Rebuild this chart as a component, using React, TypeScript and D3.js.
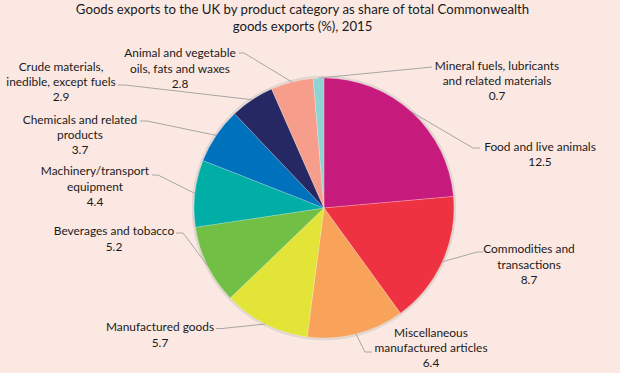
import React, { useEffect } from "react";
import * as d3 from "d3";

const categories = [
  "Food and live animals",
  "Commodities and transactions",
  "Miscellaneous manufactured articles",
  "Manufactured goods",
  "Beverages and tobacco",
  "Machinery/transport equipment",
  "Chemicals and related products",
  "Crude materials, inedible, except fuels",
  "Animal and vegetable oils, fats and waxes",
  "Mineral fuels, lubricants and related materials",
];
const labelLines = [
  ["Food and live animals"],
  ["Commodities and", "transactions"],
  ["Miscellaneous", "manufactured articles"],
  ["Manufactured goods"],
  ["Beverages and tobacco"],
  ["Machinery/transport", "equipment"],
  ["Chemicals and related", "products"],
  ["Crude materials,", "inedible, except fuels"],
  ["Animal and vegetable", "oils, fats and waxes"],
  ["Mineral fuels, lubricants", "and related materials"],
];
const values = [12.5, 8.7, 6.4, 5.7, 5.2, 4.4, 3.7, 2.9, 2.8, 0.7];
const valueLabels = ["12.5", "8.7", "6.4", "5.7", "5.2", "4.4", "3.7", "2.9", "2.8", "0.7"];
const colors = [
  "#c71a7d", "#ee3241", "#f9a35a", "#e2e437", "#72bf45",
  "#00aea6", "#0071bc", "#262863", "#f69e8b", "#8fd3d3",
];
const titleLines = [
  "Goods exports to the UK by product category as share of total Commonwealth",
  "goods exports (%), 2015",
];

// layout: label centre x, first line centre y, leader knee and end points
const labelLayout = [
  { cx: 540, y: 146, knee: [473, 148], end: [480, 148] },
  { cx: 529, y: 248.7, knee: [477, 252], end: [483, 252] },
  { cx: 431, y: 332.3, knee: [365, 352], end: [372, 352] },
  { cx: 160, y: 326.7, knee: [222, 328.5], end: [216, 328.5] },
  { cx: 114, y: 230.7, knee: [183, 233], end: [176, 233] },
  { cx: 95, y: 170.7, knee: [158, 175], end: [152, 175] },
  { cx: 80, y: 119, knee: [147, 121], end: [140, 121] },
  { cx: 61, y: 66, knee: [125, 85], end: [118, 85] },
  { cx: 180, y: 52.7, knee: [244, 53], end: [239, 53] },
  { cx: 497, y: 65, knee: [432, 67], end: [432, 67] },
];

const W = 620;
const H = 373;
const CX = 324;
const CY = 208;
const R = 130;
const FONT = "Lato, 'Open Sans', sans-serif";

export default function App() {
  useEffect(() => {
    document.body.style.margin = "0";
  }, []);

  const pie = d3
    .pie<number>()
    .sort(null)
    .startAngle(0)
    .endAngle(2 * Math.PI)
    .value((d) => d);
  const arcs = pie(values);
  const arc = d3.arc<d3.PieArcDatum<number>>().innerRadius(0).outerRadius(R);
  const lineGen = d3.line();

  return (
    <svg width={W} height={H} style={{ display: "block", background: "#fce8e2" }}>
      <rect x={0} y={0} width={W} height={H} fill="#fce8e2" />
      {titleLines.map((t, i) => (
        <text
          key={i}
          x={302.5}
          y={8.5 + i * 17}
          textAnchor="middle"
          dominantBaseline="central"
          fontFamily={FONT}
          fontSize={13.2}
          fill="#1a1a1a"
        >
          {t}
        </text>
      ))}
      <g transform={`translate(${CX},${CY})`}>
        <circle r={R + 1} fill="none" stroke="#d9cfcc" strokeWidth={2.5} opacity={0.8} />
        {arcs.map((a, i) => (
          <path
            key={categories[i]}
            d={arc(a) || ""}
            fill={colors[i]}
            stroke="#ffffff"
            strokeOpacity={0.35}
            strokeWidth={0.6}
          />
        ))}
      </g>
      {arcs.map((a, i) => {
        const mid = (a.startAngle + a.endAngle) / 2;
        const px = CX + R * Math.sin(mid);
        const py = CY - R * Math.cos(mid);
        const L = labelLayout[i];
        const pts: [number, number][] = [
          [px, py],
          [L.knee[0], L.knee[1]],
          [L.end[0], L.end[1]],
        ];
        return (
          <path
            key={"l" + i}
            d={lineGen(pts) || ""}
            fill="none"
            stroke="#a6a6a6"
            strokeWidth={1}
          />
        );
      })}
      {labelLines.map((lines, i) => {
        const L = labelLayout[i];
        const all = [...lines, valueLabels[i]];
        return (
          <text
            key={"t" + i}
            textAnchor="middle"
            fontFamily={FONT}
            fontSize={11.9}
            fill="#1a1a1a"
          >
            {all.map((s, j) => (
              <tspan key={j} x={L.cx} y={L.y + j * 15.3} dominantBaseline="central">
                {s}
              </tspan>
            ))}
          </text>
        );
      })}
    </svg>
  );
}
